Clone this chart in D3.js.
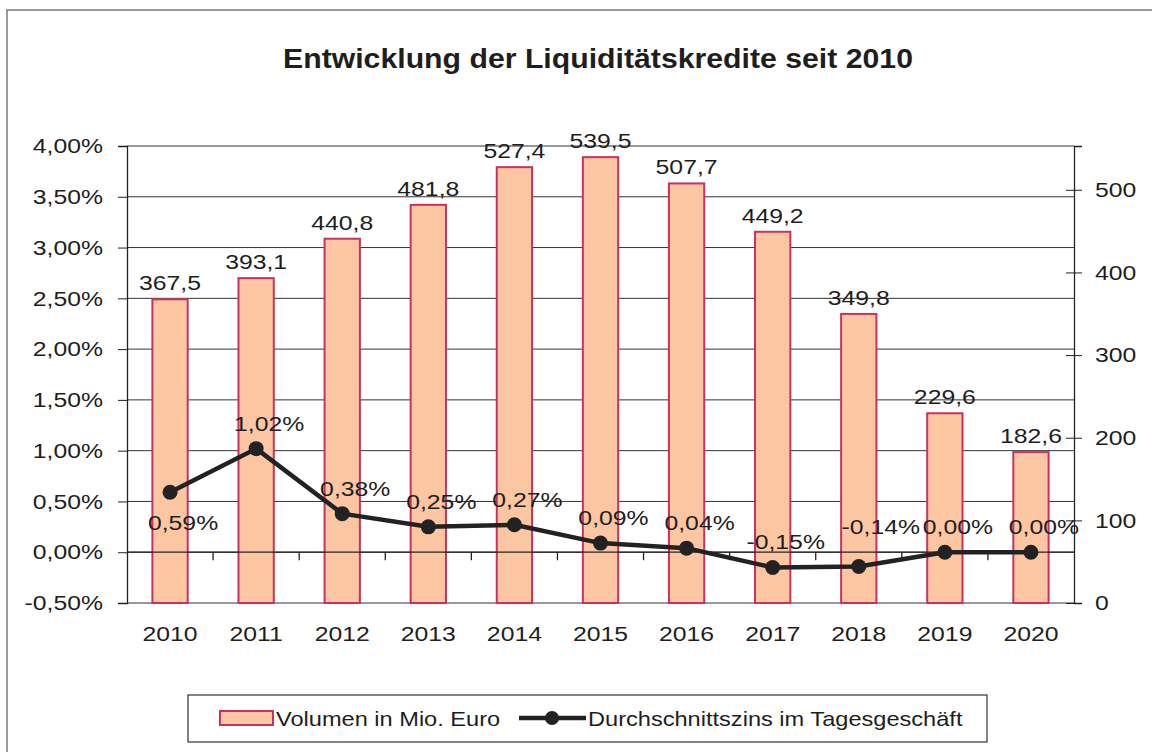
<!DOCTYPE html>
<html>
<head>
<meta charset="utf-8">
<script src="https://cdn.jsdelivr.net/npm/d3@7"></script>
<style>
  html, body { margin: 0; padding: 0; background: #fff; }
  svg { display: block; }
  text { font-family: Arial, "Liberation Sans", sans-serif; fill: #1e1e1e; }
</style>
</head>
<body>
<svg id="chart" width="1152" height="752"></svg>
<script>
// ---- data ----
const years = ["2010","2011","2012","2013","2014","2015","2016","2017","2018","2019","2020"];
const volume = [367.5, 393.1, 440.8, 481.8, 527.4, 539.5, 507.7, 449.2, 349.8, 229.6, 182.6];
const rate = [0.59, 1.02, 0.38, 0.25, 0.27, 0.09, 0.04, -0.15, -0.14, 0.00, 0.00];
const leftTicks = [-0.5, 0, 0.5, 1, 1.5, 2, 2.5, 3, 3.5, 4];
const rightTicks = [0, 100, 200, 300, 400, 500];
const titleText = "Entwicklung der Liquiditätskredite seit 2010";
const seriesNames = ["Volumen in Mio. Euro", "Durchschnittszins im Tagesgeschäft"];

// ---- layout ----
const svg = d3.select("#chart");
const plot = { left: 127, right: 1074, top: 146, bottom: 603 };
const de = d3.formatLocale({ decimal: ",", thousands: ".", grouping: [3], currency: ["", " €"], minus: "-" });
const fmtPct = v => de.format(".2f")(v) + "%";
const fmtNum = v => de.format(".1f")(v);
const SX = 1.18; // horizontal stretch of the scanned lettering

function stretch(sel, s) {
  sel.each(function () {
    const t = d3.select(this);
    const xv = +(t.attr("x") || 0);
    t.attr("x", xv / s).attr("transform", `scale(${s},1)`);
  });
}

const x = d3.scaleBand().domain(years).range([plot.left, plot.right]).paddingInner(0).paddingOuter(0);
const yL = d3.scaleLinear().domain([-0.5, 4]).range([plot.bottom, plot.top]);
const yR = d3.scaleLinear().domain([0, 553]).range([plot.bottom, plot.top]);
const barW = x.bandwidth() * 0.41;

// outer frame
svg.append("path").attr("d", "M7,760 L7,10 L1160,10")
  .attr("fill", "none").attr("stroke", "#7a7a7a").attr("stroke-width", 1.5);

// title
const title = svg.append("text").attr("x", 598).attr("y", 68).attr("text-anchor", "middle")
  .attr("font-size", 27).attr("font-weight", "bold").text(titleText);
stretch(title, 1.12);

// gridlines
svg.append("g").selectAll("line").data(leftTicks).join("line")
  .attr("x1", plot.left).attr("x2", plot.right)
  .attr("y1", d => yL(d)).attr("y2", d => yL(d))
  .attr("stroke", "#333").attr("stroke-width", 1);

// left axis
const gL = svg.append("g").attr("transform", `translate(${plot.left},0)`)
  .call(d3.axisLeft(yL).tickValues(leftTicks).tickSize(9).tickPadding(15).tickFormat(fmtPct));
gL.select(".domain").attr("stroke", "#222").attr("stroke-width", 1.3);
gL.selectAll(".tick line").attr("stroke", "#222");
gL.selectAll("text").attr("font-size", 21).attr("fill", "#1e1e1e").style("font-family", "Arial, 'Liberation Sans', sans-serif");
stretch(gL.selectAll("text"), SX);

// right axis
const gR = svg.append("g").attr("transform", `translate(${plot.right},0)`)
  .call(d3.axisRight(yR).tickValues(rightTicks).tickSize(8).tickPadding(13).tickFormat(d3.format("d")));
gR.select(".domain").attr("stroke", "#222").attr("stroke-width", 1.3);
gR.selectAll(".tick line").attr("stroke", "#222").attr("x1", -8);
gR.selectAll("text").attr("font-size", 21).attr("fill", "#1e1e1e").style("font-family", "Arial, 'Liberation Sans', sans-serif");
stretch(gR.selectAll("text"), SX);

// bars
svg.append("g").selectAll("rect").data(years).join("rect")
  .attr("x", (d, i) => x(d) + (x.bandwidth() - barW) / 2)
  .attr("y", (d, i) => yR(volume[i]))
  .attr("width", barW)
  .attr("height", (d, i) => yR(0) - yR(volume[i]))
  .attr("fill", "#fdc6a2").attr("stroke", "#c9325e").attr("stroke-width", 2);

// bar labels
const barLabels = svg.append("g").selectAll("text").data(years).join("text")
  .attr("x", d => x(d) + x.bandwidth() / 2)
  .attr("y", (d, i) => yR(volume[i]) - 9)
  .attr("text-anchor", "middle").attr("font-size", 21)
  .text((d, i) => fmtNum(volume[i]));
stretch(barLabels, SX);

// category axis at 0 %
const y0 = yL(0);
svg.append("line").attr("x1", plot.left).attr("x2", plot.right).attr("y1", y0).attr("y2", y0)
  .attr("stroke", "#222").attr("stroke-width", 1.3);
svg.append("g").selectAll("line").data(years.slice(1)).join("line")
  .attr("x1", d => x(d)).attr("x2", d => x(d))
  .attr("y1", y0).attr("y2", y0 + 8)
  .attr("stroke", "#222").attr("stroke-width", 1.3);

// category labels
const catLabels = svg.append("g").selectAll("text").data(years).join("text")
  .attr("x", d => x(d) + x.bandwidth() / 2)
  .attr("y", 641).attr("text-anchor", "middle").attr("font-size", 21)
  .text(d => d);
stretch(catLabels, SX);

// line
const line = d3.line().x((d, i) => x(years[i]) + x.bandwidth() / 2).y(d => yL(d));
svg.append("path").datum(rate).attr("d", line)
  .attr("fill", "none").attr("stroke", "#222").attr("stroke-width", 4.5)
  .attr("stroke-linejoin", "round");
svg.append("g").selectAll("circle").data(rate).join("circle")
  .attr("cx", (d, i) => x(years[i]) + x.bandwidth() / 2)
  .attr("cy", d => yL(d)).attr("r", 7.5).attr("fill", "#222");

// line labels (first one below the point, others above)
const lineLabels = svg.append("g").selectAll("text").data(rate).join("text")
  .attr("x", (d, i) => x(years[i]) + x.bandwidth() / 2 + (i === 8 ? 22 : 13))
  .attr("y", (d, i) => i === 0 ? yL(d) + 38 : yL(d) - (i === 8 ? 32 : 18))
  .attr("text-anchor", "middle").attr("font-size", 21)
  .text(d => fmtPct(d));
stretch(lineLabels, SX);

// legend
const lg = svg.append("g");
lg.append("rect").attr("x", 188).attr("y", 695).attr("width", 799).attr("height", 47)
  .attr("fill", "#fff").attr("stroke", "#333").attr("stroke-width", 1.2);
lg.append("rect").attr("x", 220).attr("y", 711).attr("width", 53).attr("height", 14)
  .attr("fill", "#fdc6a2").attr("stroke", "#c9325e").attr("stroke-width", 2);
const lt1 = lg.append("text").attr("x", 276).attr("y", 726).attr("font-size", 20).text(seriesNames[0]);
lg.append("line").attr("x1", 519).attr("x2", 586).attr("y1", 718).attr("y2", 718)
  .attr("stroke", "#222").attr("stroke-width", 4.5);
lg.append("circle").attr("cx", 552).attr("cy", 718).attr("r", 7).attr("fill", "#222");
const lt2 = lg.append("text").attr("x", 588).attr("y", 726).attr("font-size", 20).text(seriesNames[1]);
stretch(lt1, SX);
stretch(lt2, SX);
</script>
</body>
</html>
